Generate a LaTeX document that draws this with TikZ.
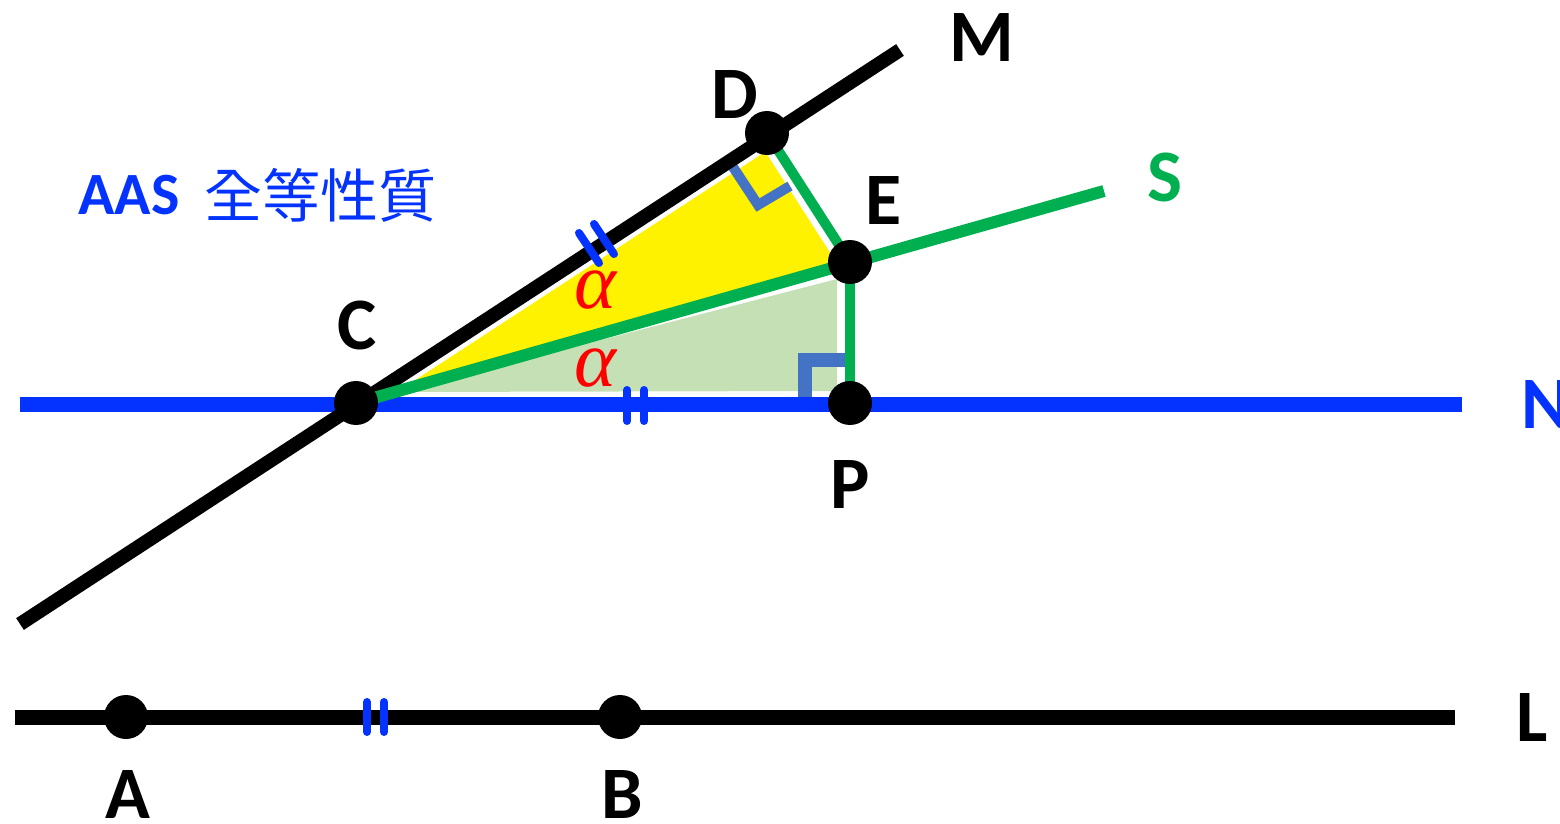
\documentclass[tikz,border=0pt]{standalone}
\usepackage{fontspec}
\setmainfont{Carlito}
\newfontfamily\cjkfont{Noto Sans CJK TC}
\newfontfamily\grkfont{Liberation Serif}
\definecolor{nblue}{RGB}{4,51,255}
\definecolor{sgreen}{RGB}{0,176,80}
\definecolor{ltgreen}{RGB}{197,224,180}
\definecolor{rmark}{RGB}{68,114,196}
\definecolor{ared}{RGB}{255,0,0}
\tikzset{
  lbl/.style={font=\fontsize{37}{40}\selectfont\bfseries, text=black, inner sep=0pt},
  ptdot/.style={circle, fill=black, minimum size=22pt, inner sep=0pt},
  blkline/.style={line width=7pt, black},
  gapline/.style={line width=11.5pt, white},
  grnline/.style={line width=6pt, sgreen},
  tick/.style={line width=4pt, nblue, line cap=round},
  ramark/.style={line width=5pt, rmark},
  alph/.style={font=\grkfont\itshape\fontsize{40}{44}\selectfont, text=ared, inner sep=0pt}
}
\begin{document}
\begin{tikzpicture}[x=0.5pt,y=-0.5pt]
\useasboundingbox (0,0) rectangle (1560,824);
% key points
\coordinate (C) at (356,403);
\coordinate (D) at (767,133);
\coordinate (E) at (850,262);
\coordinate (P) at (850,403);
\coordinate (A) at (126,717);
\coordinate (B) at (620,717);
\coordinate (Mstart) at (20,624);
\coordinate (Mend) at (900,50);
\coordinate (Send) at (1104,191);
\coordinate (Nstart) at (20,404);
\coordinate (Nend) at (1462,404);
\coordinate (Lstart) at (15,717);
\coordinate (Lend) at (1455,717);
% filled regions
\fill[yellow] (C) -- (D) -- (E) -- cycle;
\fill[ltgreen] (400,392) -- (837,279) -- (837,391) -- cycle;
% white gaps
\draw[gapline] (Mstart) -- (Mend);
\draw[gapline] (D) -- (E);
\draw[gapline] (E) -- (P);
\draw[line width=9pt, white] (Nstart) -- (Nend);
% right-angle marks
\draw[ramark] (733,167) -- (758,205) -- (790,186);
\draw[ramark, line width=7pt] (805,397) -- (805,360) -- (850,360);
% lines
\draw[line width=7.5pt, nblue] (Nstart) -- (Nend);
\draw[line width=7.5pt, black] (Lstart) -- (Lend);
\draw[blkline] (Mstart) -- (Mend);
\draw[grnline] (C) -- (Send);
\draw[grnline, line width=5pt] (D) -- (E);
\draw[grnline, line width=5pt] (E) -- (P);
% tick marks
\draw[tick] (579,233) -- (599,263);
\draw[tick] (594,224) -- (614,254);
\draw[tick] (627,390) -- (627,421);
\draw[tick] (644,390) -- (644,421);
\draw[tick] (367,702) -- (367,732);
\draw[tick] (384,702) -- (384,732);
% dots
\node[ptdot] (dC) at (C) {};
\node[ptdot] (dD) at (D) {};
\node[ptdot] (dE) at (E) {};
\node[ptdot] (dP) at (P) {};
\node[ptdot] (dA) at (A) {};
\node[ptdot] (dB) at (B) {};
% angle labels
\node[alph] (a1) at (595,290) {α};
\node[alph] (a2) at (595,368) {α};
% point labels
\node[lbl] (lM) at (982,38) {M};
\node[lbl] (lD) at (735,95) {D};
\node[lbl] (lE) at (884,201) {E};
\node[lbl, text=sgreen] (lS) at (1165,177) {S};
\node[lbl] (lC) at (357,325) {C};
\node[lbl, text=nblue] (lN) at (1546,405) {N};
\node[lbl] (lP) at (850,485) {P};
\node[lbl] (lA) at (128,795) {A};
\node[lbl] (lB) at (622,795) {B};
\node[lbl] (lL) at (1532,718) {L};
% title
\node[font=\fontsize{30}{32}\selectfont\bfseries, text=nblue, inner sep=0pt] (t1) at (129,195) {AAS};
\node[font=\cjkfont\fontsize{29}{32}\selectfont, text=nblue, inner sep=0pt] (t2) at (320,195) {全等性質};
\end{tikzpicture}
\end{document}
